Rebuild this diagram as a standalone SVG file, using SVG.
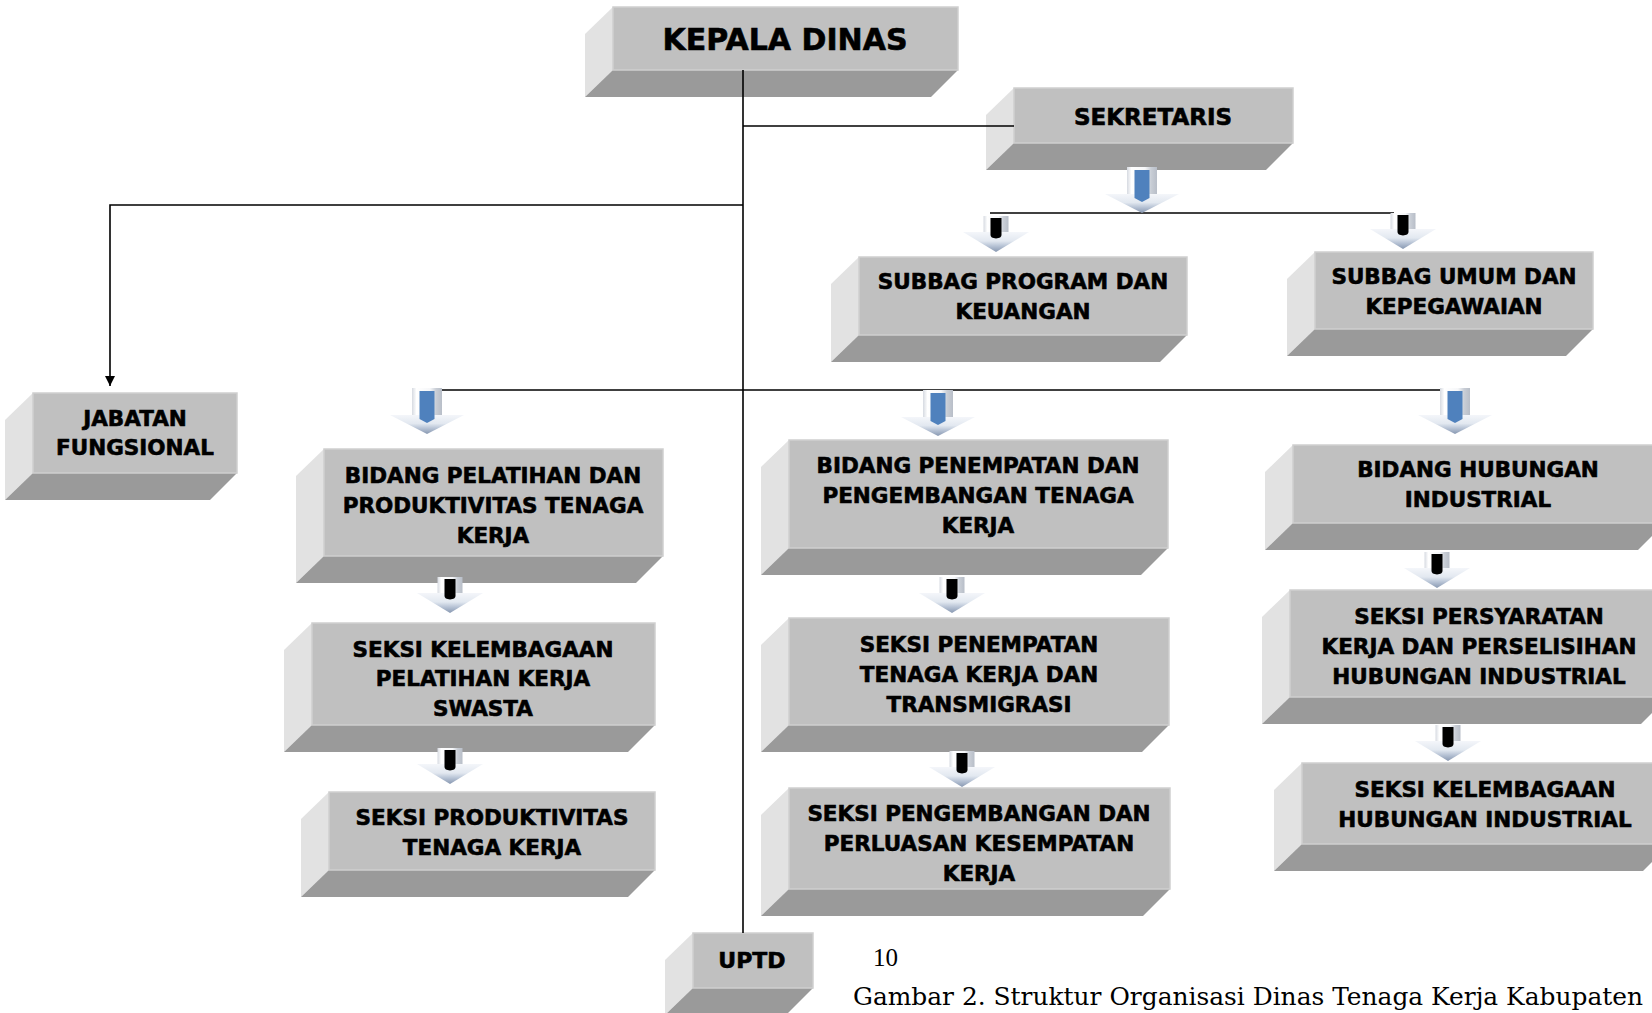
<svg xmlns="http://www.w3.org/2000/svg" xmlns:xlink="http://www.w3.org/1999/xlink" width="1652" height="1013" viewBox="0 0 1652 1013">
<style>
.front{fill:#c0c0c0;stroke:#cfcfcf;stroke-width:1.5}
.side{fill:#e2e2e2}
.bottom{fill:#9a9a9a}
.t{font-family:"DejaVu Sans","Liberation Sans",sans-serif;font-weight:bold;font-size:21.5px;text-anchor:middle;fill:#000;stroke:#000;stroke-width:0.6}
.conn{fill:none;stroke:#000;stroke-width:1.6}
.cap{font-family:"DejaVu Serif","Liberation Serif",serif;font-size:24.5px;fill:#000}
</style>
<defs>
<linearGradient id="shaftGrad" x1="0" y1="0" x2="1" y2="0">
<stop offset="0" stop-color="#d6dae1"/>
<stop offset="0.15" stop-color="#ffffff"/>
<stop offset="0.6" stop-color="#f6f7f9"/>
<stop offset="0.8" stop-color="#c9ced6"/>
<stop offset="1" stop-color="#b8bec8"/>
</linearGradient>
<linearGradient id="headGrad" x1="0" y1="0" x2="0" y2="1">
<stop offset="0" stop-color="#f4f6fa"/>
<stop offset="0.45" stop-color="#e2e8f0"/>
<stop offset="0.7" stop-color="#b7c3d5"/>
<stop offset="1" stop-color="#8898b1"/>
</linearGradient>
<marker id="ah" viewBox="0 0 10 10" refX="10" refY="5" markerWidth="10" markerHeight="10" markerUnits="userSpaceOnUse" orient="auto">
<path d="M0,0 L10,5 L0,10 Z" fill="#000"/>
</marker>
<g id="arrowBlue">
<rect x="-15" y="0" width="30" height="30" fill="url(#shaftGrad)"/>
<polygon points="-37,27 37,27 0,46" fill="url(#headGrad)"/>
<path d="M-7.5,3 H7.5 V31 L0,35 L-7.5,31 Z" fill="#4f81bd"/>
</g>
<g id="arrowBlack">
<rect x="-12.5" y="0" width="25" height="18" fill="url(#shaftGrad)"/>
<polygon points="-33,16 33,16 0,36" fill="url(#headGrad)"/>
<path d="M-5.5,2 H5.5 V19 Q5.5,22 0,22.5 Q-5.5,22 -5.5,19 Z" fill="#000"/>
</g>
</defs>
<rect width="1652" height="1013" fill="#ffffff"/>

<g id="kepala-dinas">
<path class="side" d="M613,7 V70 L585,97 V34 Z"/>
<path class="bottom" d="M613,70 H958 L931,97 H585 Z"/>
<rect class="front" x="613" y="7" width="345" height="63"/>
<text class="t" x="785" y="50" style="font-size:30px">KEPALA DINAS</text>
</g>

<g id="sekretaris">
<path class="side" d="M1014,88 V143 L986,170 V115 Z"/>
<path class="bottom" d="M1014,143 H1293 L1266,170 H986 Z"/>
<rect class="front" x="1014" y="88" width="279" height="55"/>
<text class="t" x="1153" y="125" style="font-size:23px">SEKRETARIS</text>
</g>

<g id="subbag-program">
<path class="side" d="M859,257 V335 L831,362 V284 Z"/>
<path class="bottom" d="M859,335 H1187 L1160,362 H831 Z"/>
<rect class="front" x="859" y="257" width="328" height="78"/>
<text class="t" x="1023" y="289">SUBBAG PROGRAM DAN</text>
<text class="t" x="1023" y="319">KEUANGAN</text>
</g>

<g id="subbag-umum">
<path class="side" d="M1315,252 V329 L1287,356 V279 Z"/>
<path class="bottom" d="M1315,329 H1593 L1566,356 H1287 Z"/>
<rect class="front" x="1315" y="252" width="278" height="77"/>
<text class="t" x="1454" y="284">SUBBAG UMUM DAN</text>
<text class="t" x="1454" y="314">KEPEGAWAIAN</text>
</g>

<g id="jabatan-fungsional">
<path class="side" d="M33,393 V473 L5,500 V420 Z"/>
<path class="bottom" d="M33,473 H237 L210,500 H5 Z"/>
<rect class="front" x="33" y="393" width="204" height="80"/>
<text class="t" x="135" y="426">JABATAN</text>
<text class="t" x="135" y="455">FUNGSIONAL</text>
</g>

<g id="bidang-pelatihan">
<path class="side" d="M324,449 V556 L296,583 V476 Z"/>
<path class="bottom" d="M324,556 H663 L636,583 H296 Z"/>
<rect class="front" x="324" y="449" width="339" height="107"/>
<text class="t" x="493" y="483">BIDANG PELATIHAN DAN</text>
<text class="t" x="493" y="513">PRODUKTIVITAS TENAGA</text>
<text class="t" x="493" y="543">KERJA</text>
</g>

<g id="seksi-kelembagaan-pelatihan">
<path class="side" d="M312,623 V725 L284,752 V650 Z"/>
<path class="bottom" d="M312,725 H655 L628,752 H284 Z"/>
<rect class="front" x="312" y="623" width="343" height="102"/>
<text class="t" x="483" y="657">SEKSI KELEMBAGAAN</text>
<text class="t" x="483" y="686">PELATIHAN KERJA</text>
<text class="t" x="483" y="716">SWASTA</text>
</g>

<g id="seksi-produktivitas">
<path class="side" d="M329,792 V870 L301,897 V819 Z"/>
<path class="bottom" d="M329,870 H655 L628,897 H301 Z"/>
<rect class="front" x="329" y="792" width="326" height="78"/>
<text class="t" x="492" y="825">SEKSI PRODUKTIVITAS</text>
<text class="t" x="492" y="855">TENAGA KERJA</text>
</g>

<g id="bidang-penempatan">
<path class="side" d="M789,440 V548 L761,575 V467 Z"/>
<path class="bottom" d="M789,548 H1168 L1141,575 H761 Z"/>
<rect class="front" x="789" y="440" width="379" height="108"/>
<text class="t" x="978" y="473">BIDANG PENEMPATAN DAN</text>
<text class="t" x="978" y="503">PENGEMBANGAN TENAGA</text>
<text class="t" x="978" y="533">KERJA</text>
</g>

<g id="seksi-penempatan">
<path class="side" d="M789,618 V725 L761,752 V645 Z"/>
<path class="bottom" d="M789,725 H1169 L1142,752 H761 Z"/>
<rect class="front" x="789" y="618" width="380" height="107"/>
<text class="t" x="979" y="652">SEKSI PENEMPATAN</text>
<text class="t" x="979" y="682">TENAGA KERJA DAN</text>
<text class="t" x="979" y="712">TRANSMIGRASI</text>
</g>

<g id="seksi-pengembangan">
<path class="side" d="M789,788 V889 L761,916 V815 Z"/>
<path class="bottom" d="M789,889 H1170 L1143,916 H761 Z"/>
<rect class="front" x="789" y="788" width="381" height="101"/>
<text class="t" x="979" y="821">SEKSI PENGEMBANGAN DAN</text>
<text class="t" x="979" y="851">PERLUASAN KESEMPATAN</text>
<text class="t" x="979" y="881">KERJA</text>
</g>

<g id="bidang-hubungan">
<path class="side" d="M1293,445 V523 L1265,550 V472 Z"/>
<path class="bottom" d="M1293,523 H1665 L1638,550 H1265 Z"/>
<rect class="front" x="1293" y="445" width="372" height="78"/>
<text class="t" x="1478" y="477">BIDANG HUBUNGAN</text>
<text class="t" x="1478" y="507">INDUSTRIAL</text>
</g>

<g id="seksi-persyaratan">
<path class="side" d="M1290,590 V697 L1262,724 V617 Z"/>
<path class="bottom" d="M1290,697 H1668 L1641,724 H1262 Z"/>
<rect class="front" x="1290" y="590" width="378" height="107"/>
<text class="t" x="1479" y="624">SEKSI PERSYARATAN</text>
<text class="t" x="1479" y="654">KERJA DAN PERSELISIHAN</text>
<text class="t" x="1479" y="684">HUBUNGAN INDUSTRIAL</text>
</g>

<g id="seksi-kelembagaan-hi">
<path class="side" d="M1302,763 V844 L1274,871 V790 Z"/>
<path class="bottom" d="M1302,844 H1670 L1643,871 H1274 Z"/>
<rect class="front" x="1302" y="763" width="368" height="81"/>
<text class="t" x="1485" y="797">SEKSI KELEMBAGAAN</text>
<text class="t" x="1485" y="827">HUBUNGAN INDUSTRIAL</text>
</g>

<g id="uptd">
<path class="side" d="M693,933 V988 L665,1015 V960 Z"/>
<path class="bottom" d="M693,988 H813 L786,1015 H665 Z"/>
<rect class="front" x="693" y="933" width="120" height="55"/>
<text class="t" x="752" y="968" style="font-size:22px">UPTD</text>
</g>

<g id="connectors">
<path class="conn" d="M743,70 V933"/>
<path class="conn" d="M743,126 H1014"/>
<path class="conn" d="M743,205 H110 V386" marker-end="url(#ah)"/>
<path class="conn" d="M990,213 H1394"/>
<path class="conn" d="M440,390 H1442"/>
</g>

<g id="arrows">
<use xlink:href="#arrowBlue" transform="translate(1142,167)"/>
<use xlink:href="#arrowBlue" transform="translate(427,388)"/>
<use xlink:href="#arrowBlue" transform="translate(938,390)"/>
<use xlink:href="#arrowBlue" transform="translate(1455,388)"/>
<use xlink:href="#arrowBlack" transform="translate(996,216)"/>
<use xlink:href="#arrowBlack" transform="translate(1403,213)"/>
<use xlink:href="#arrowBlack" transform="translate(450,577)"/>
<use xlink:href="#arrowBlack" transform="translate(450,748)"/>
<use xlink:href="#arrowBlack" transform="translate(952,577)"/>
<use xlink:href="#arrowBlack" transform="translate(962,751)"/>
<use xlink:href="#arrowBlack" transform="translate(1437,552)"/>
<use xlink:href="#arrowBlack" transform="translate(1448,725)"/>
</g>

<g id="caption">
<text class="cap" x="873" y="966" style="font-family:'Liberation Serif',serif;font-size:25px">10</text>
<text class="cap" x="853" y="1005" textLength="790" lengthAdjust="spacingAndGlyphs">Gambar 2. Struktur Organisasi Dinas Tenaga Kerja Kabupaten</text>
</g>
</svg>
